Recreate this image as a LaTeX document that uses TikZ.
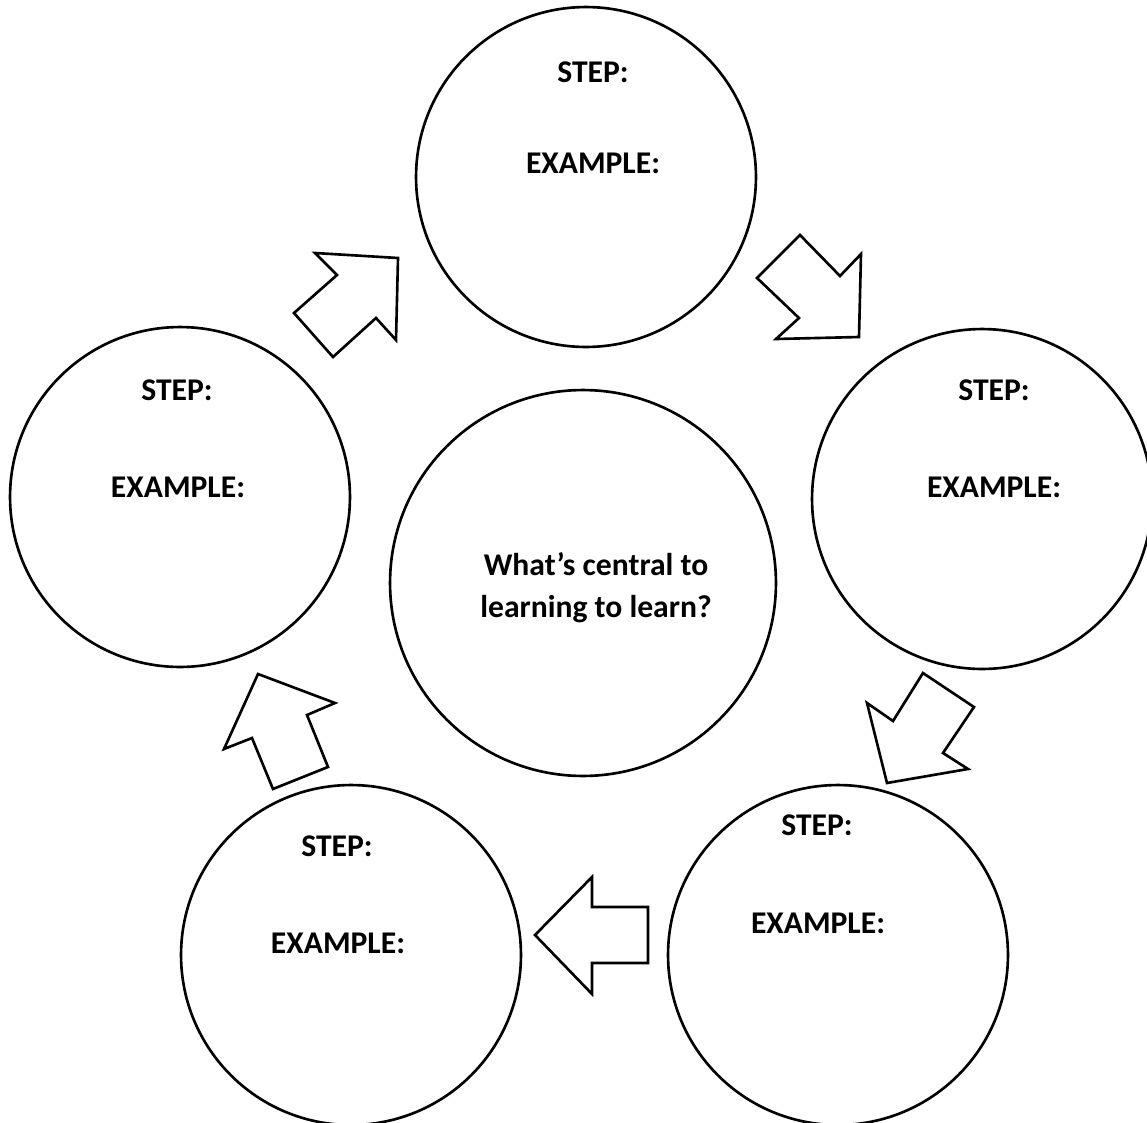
\documentclass[tikz,border=0pt]{standalone}
\usepackage{fontspec}
\setmainfont{Carlito}
\usepackage{tikz}

\begin{document}
\begin{tikzpicture}[x=0.02cm, y=-0.02cm,
		stepcircle/.style={draw, circle, line width=1.5pt, minimum size=6.8cm, inner sep=0pt},
		hubcircle/.style={draw, circle, line width=1.5pt, minimum size=7.72cm, inner sep=0pt},
		cuetext/.style={font=\bfseries\fontsize{18}{24}\selectfont, inner sep=0pt},
		blockarrow/.style={draw, line width=1.5pt, fill=white, line join=miter}]
		\useasboundingbox (0,0) rectangle (1147,1123);
		
		% Circles
		\node[stepcircle] (top) at (586,177) {};
		\node[stepcircle] (right) at (982,499) {};
		\node[stepcircle] (botright) at (838,955) {};
		\node[stepcircle] (botleft) at (351,955) {};
		\node[stepcircle] (left) at (180,497) {};
		\node[hubcircle] (hub) at (583,583) {};
		
		% Labels
		\node[cuetext] (topstep) at (593,72) {STEP:};
		\node[cuetext] (topex) at (593,163) {EXAMPLE:};
		\node[cuetext] (rightstep) at (994,390) {STEP:};
		\node[cuetext] (rightex) at (994,487) {EXAMPLE:};
		\node[cuetext] (botrightstep) at (817,825) {STEP:};
		\node[cuetext] (botrightex) at (818,923) {EXAMPLE:};
		\node[cuetext] (botleftstep) at (337,846) {STEP:};
		\node[cuetext] (botleftex) at (338,943) {EXAMPLE:};
		\node[cuetext] (leftstep) at (177,390) {STEP:};
		\node[cuetext] (leftex) at (178,487) {EXAMPLE:};
		\node[cuetext, align=center] (hubtext) at (596,588)
			{What’s central to\\learning to learn?};
		
		% Arrows
		\draw[blockarrow] (315,253) -- (398,258) -- (396,340) -- (376,318) -- (333,357) -- (294,313) -- (337,275) -- cycle;
		\draw[blockarrow] (800,235) -- (840,276) -- (861,254) -- (859,337) -- (776,339) -- (799,318) -- (757,278) -- cycle;
		\draw[blockarrow] (923,673) -- (974,707) -- (943,753) -- (968,769) -- (887,783) -- (867,703) -- (893,721) -- cycle;
		\draw[blockarrow] (535,935) -- (592,877) -- (592,907) -- (648,907) -- (648,963) -- (592,963) -- (592,994) -- cycle;
		\draw[blockarrow] (258,674) -- (335,703) -- (307,715) -- (328,767) -- (273,789) -- (252,738) -- (224,749) -- cycle;
	\end{tikzpicture}
\end{document}
